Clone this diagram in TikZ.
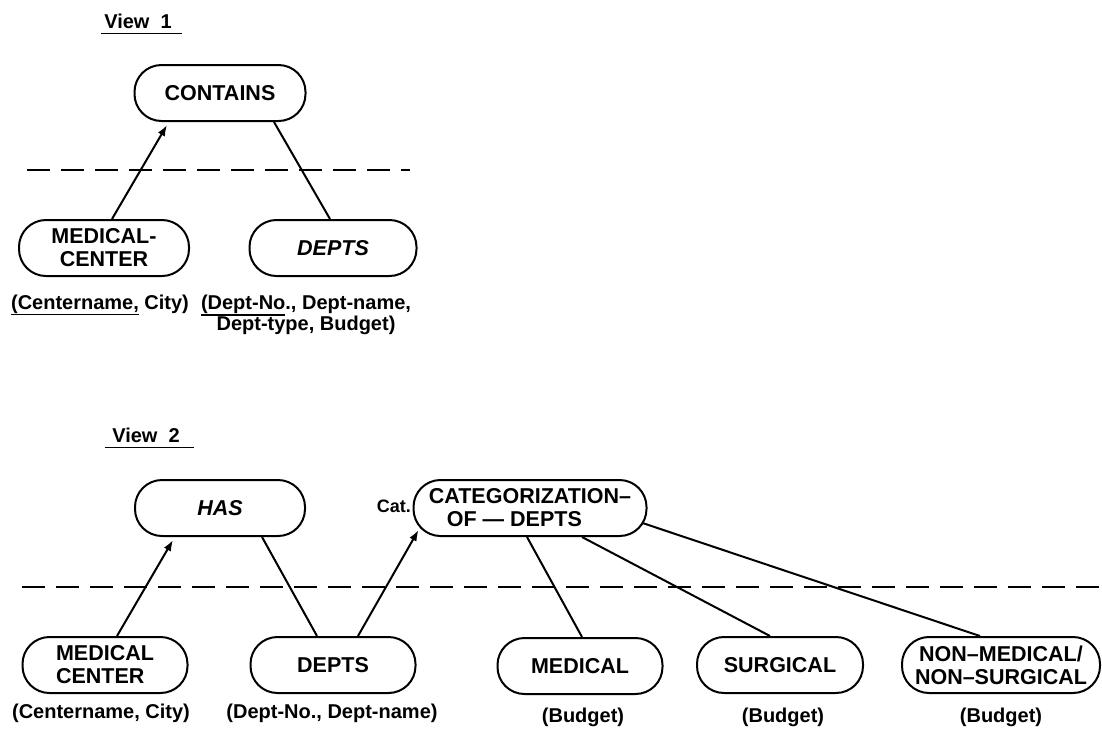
\documentclass[tikz,border=0pt]{standalone}
\usepackage{fontspec}
\setmainfont{Liberation Sans}
\usetikzlibrary{arrows.meta}
\newcommand\myul[1]{\setbox0\hbox{#1}\rlap{\rule[-6pt]{\wd0}{1.6pt}}\box0\relax}
\begin{document}
\begin{tikzpicture}[x=1pt,y=-1pt,
 ent/.style={draw, line width=2pt, rounded corners=27pt, minimum height=56pt, inner sep=0pt, align=center, font=\fontsize{21.5}{23}\selectfont\bfseries},
 lbl/.style={inner sep=0pt, align=center, font=\fontsize{20}{21}\selectfont\bfseries},
 conn/.style={line width=2pt},
 arr/.style={line width=2pt, -{Latex[length=11pt,width=8pt]}},
 sep/.style={line width=1.5pt, dash pattern=on 23pt off 11pt},
 uline/.style={line width=1.6pt}
]
\useasboundingbox (0,0) rectangle (1102,732);
% View 1
\node[lbl] (v1) at (138,21) {View\ \ 1};
\draw[uline] ([xshift=-3pt,yshift=-5pt]v1.south west) -- ([xshift=10pt,yshift=-5pt]v1.south east);
\node[ent, minimum width=171pt] (contains) at (220,93) {CONTAINS};
\node[ent, minimum width=170pt] (mc1) at (104,248) {MEDICAL-\\CENTER};
\node[ent, minimum width=167pt] (d1) at (333,248) {\itshape DEPTS};
\draw[sep] (27,170) -- (410,170);
\draw[arr] ([xshift=8pt]mc1.north) -- ([xshift=-53pt,yshift=-3pt]contains.south);
\draw[conn] ([xshift=54pt]contains.south) -- ([xshift=-3pt]d1.north);
\node[lbl] (l1) at (100,305) {\myul{(Centername,}\ City)};
\node[lbl] (l2) at (306,315) {\myul{(Dept-No}., Dept-name,\\Dept-type, Budget)};
% View 2
\node[lbl] (v2) at (146,435) {View\ \ 2};
\draw[uline] ([xshift=-7pt,yshift=-5pt]v2.south west) -- ([xshift=14pt,yshift=-5pt]v2.south east);
\node[ent, minimum width=170pt] (has) at (220,508) {\itshape HAS};
\node[ent, minimum width=233pt, align=left] (cat) at (530,508) {CATEGORIZATION–\\\hspace*{18pt}OF — DEPTS};
\node[lbl, anchor=east, font=\fontsize{18}{20}\selectfont\bfseries] (catl) at (411,506) {Cat.};
\node[ent, minimum width=165pt, align=left] (mc2) at (105,665) {MEDICAL\\CENTER};
\node[ent, minimum width=165pt] (d2) at (333,665) {DEPTS};
\node[ent, minimum width=165pt] (med) at (580,666) {MEDICAL};
\node[ent, minimum width=166pt] (sur) at (780,665) {SURGICAL};
\node[ent, minimum width=198pt] (nm) at (1001,665) {NON–MEDICAL/\\NON–SURGICAL};
\draw[sep] (22,587) -- (1102,587);
\draw[arr] ([xshift=12pt]mc2.north) -- ([xshift=-47pt,yshift=-3pt]has.south);
\draw[conn] ([xshift=42pt]has.south) -- ([xshift=-16pt]d2.north);
\draw[arr] ([xshift=25pt]d2.north) -- ([xshift=6pt,yshift=7pt]cat.south west);
\draw[conn] ([xshift=-3pt]cat.south) -- ([xshift=2pt]med.north);
\draw[conn] ([xshift=52pt]cat.south) -- ([xshift=-10pt]sur.north);
\draw[conn] ([xshift=-5pt,yshift=-15pt]cat.east) -- ([xshift=-21pt]nm.north);
\node[lbl] (l3) at (101,713) {(Centername,\ City)};
\node[lbl] (l4) at (332,713) {(Dept-No., Dept-name)};
\node[lbl] (l5) at (583,717) {(Budget)};
\node[lbl] (l6) at (783,717) {(Budget)};
\node[lbl] (l7) at (1001,717) {(Budget)};
\end{tikzpicture}
\end{document}
